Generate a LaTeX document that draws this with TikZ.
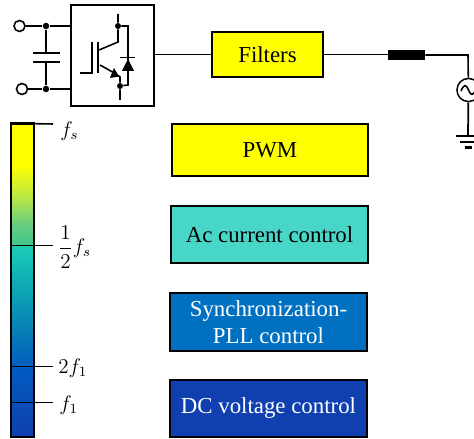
\documentclass[tikz,border=0pt]{standalone}
\usepackage{amsmath}
\usepackage{fontspec}
\setmainfont{Liberation Serif}
\usetikzlibrary{arrows.meta, positioning}
\definecolor{pwmyellow}{HTML}{FFFF00}
\definecolor{acteal}{HTML}{48D6C8}
\definecolor{pllblue}{HTML}{0070C0}
\definecolor{dcblue}{HTML}{1040B0}
\pgfdeclareverticalshading{barshade}{100bp}{
  rgb(0bp)=(0.06,0.25,0.69); rgb(25bp)=(0.06,0.25,0.69);
  rgb(35.7bp)=(0.01,0.35,0.75); rgb(41.3bp)=(0.03,0.48,0.72);
  rgb(48.5bp)=(0.05,0.65,0.70); rgb(55.4bp)=(0.10,0.80,0.72);
  rgb(55.7bp)=(0.25,0.78,0.55); rgb(58.9bp)=(0.40,0.80,0.50);
  rgb(62.9bp)=(0.70,0.90,0.30); rgb(68.4bp)=(1,1,0);
  rgb(100bp)=(1,1,0)}

\begin{document}
\begin{tikzpicture}[
    x=0.02cm, y=-0.02cm,
    box/.style  = {draw, line width=0.8pt, align=center, inner sep=0pt,
                   font=\fontsize{13}{15.2}\selectfont},
    wire/.style = {line width=0.9pt},
    tick/.style = {line width=0.9pt},
    dot/.style  = {circle, fill=black, inner sep=0pt, minimum size=0.13cm},
    term/.style = {circle, draw, line width=0.9pt, fill=white, inner sep=0pt, minimum size=0.22cm},
    lab/.style  = {anchor=west, inner sep=0pt, font=\fontsize{12}{14}\selectfont},
  ]
    \useasboundingbox (0,0) rectangle (474,439);

    %% ── Control boxes ───────────────────────────────────────────────────────
    \node[box, fill=pwmyellow, minimum width=3.92cm, minimum height=1.04cm] (pwm)  at (270,150)   {PWM};
    \node[box, fill=acteal,    minimum width=3.94cm, minimum height=1.14cm] (ac)   at (269.5,234.5) {Ac current control};
    \node[box, fill=pllblue,   minimum width=3.94cm, minimum height=1.16cm, text=white] (pll) at (268.5,322)
          {Synchronization-\\PLL control};
    \node[box, fill=dcblue,    minimum width=3.94cm, minimum height=1.14cm, text=white] (dc)  at (268.5,408.5)
          {DC voltage control};

    %% ── Frequency bar ───────────────────────────────────────────────────────
    \node[draw, line width=0.9pt, shading=barshade, minimum width=0.46cm, minimum height=6.26cm, inner sep=0pt]
          (bar) at (22.5,280.5) {};
    \draw[line width=1.3pt] (bar.north west) -- (bar.north east);

    \coordinate (fsend)  at (53,124);
    \coordinate (hfend)  at (53,245.5);
    \coordinate (twoend) at (53,366.5);
    \coordinate (oneend) at (53,402.5);
    \draw[tick] (bar.north west) -- (fsend);
    \draw[tick] (bar.west |- hfend)  -- (hfend);
    \draw[tick] (bar.west |- twoend) -- (twoend);
    \draw[tick] (bar.west |- oneend) -- (oneend);

    \node[lab] (fs)  at (60,131)   {$f_s$};
    \node[lab] (hf)  at (58,247)   {$\dfrac{1}{2}f_s$};
    \node[lab] (two) at (58,368)   {$2f_1$};
    \node[lab] (one) at (59,405)   {$f_1$};

    %% ── Power stage ─────────────────────────────────────────────────────────
    \node[draw, line width=0.8pt, minimum width=1.66cm, minimum height=2.02cm, inner sep=0pt]
          (conv) at (112.5,55.5) {};
    \node[box, fill=pwmyellow, minimum width=2.22cm, minimum height=0.9cm] (filt) at (267.5,54.5) {Filters};
    \node[fill=black, minimum width=0.74cm, minimum height=0.2cm, inner sep=0pt] (ind) at (406.5,55) {};
    \node[circle, draw, line width=0.9pt, minimum size=0.46cm, inner sep=0pt] (src) at (468.5,90) {};

    %% DC link
    \node[term] (termp) at (19.5,26) {};
    \node[term] (termn) at (22,89) {};
    \node[dot]  (dcp)   at (46,26) {};
    \node[dot]  (dcn)   at (46,89) {};
    \coordinate (capa) at (46,53);
    \coordinate (capb) at (46,62);
    \draw[wire] (termp) -- (dcp) -- (dcp -| conv.west);
    \draw[wire] (termn) -- (dcn) -- (dcn -| conv.west);
    \draw[wire] (dcp) -- (capa);
    \draw[wire] (capb) -- (dcn);
    \draw[wire] (33,53) -- (60,53);
    \draw[wire] (33,62) -- (60,62);

    %% IGBT and diode
    \node[dot, minimum size=0.12cm] (col) at (118,26) {};
    \node[dot, minimum size=0.12cm] (emi) at (120,86) {};
    \draw[wire] (80,73) -- (92,73) -- (92,42);
    \draw[wire] (98,42) -- (98,73);
    \draw[wire] (118,14) -- (col) -- (118,42) -- (99,50);
    \draw[wire] (100,65) -- (116,74) -- (120,77) -- (emi) -- (120,100);
    \fill (110,78) -- (119,76.5) -- (114,68) -- cycle;
    \draw[wire] (col) -- (128,26) -- (128,85) -- (emi);
    \fill (122,71) -- (134,71) -- (128,59) -- cycle;
    \draw[wire] (120,57.5) -- (135,57.5);

    %% Output line and grid source
    \coordinate (corner) at (468,55);
    \coordinate (gnd)    at (468,136);
    \draw[wire] (conv.east |- filt) -- (filt);
    \draw[wire] (filt.east) -- (ind.west |- filt);
    \draw[wire] (ind) -- (corner) -- (src);
    \draw[line width=1pt] (src) -- (gnd);
    \fill[white] (src.center) circle (0.21cm);
    \draw[wire] (461,91) .. controls (464,84) and (466,84) .. (468.5,90) .. controls (471,96) and (473,96) .. (476,89);
    \draw[line width=1.2pt] (456,136) -- (480,136);
    \draw[line width=1.2pt] (460,142) -- (476,142);
    \draw[line width=1.2pt] (465,147.5) -- (472,147.5);

  \end{tikzpicture}
\end{document}
